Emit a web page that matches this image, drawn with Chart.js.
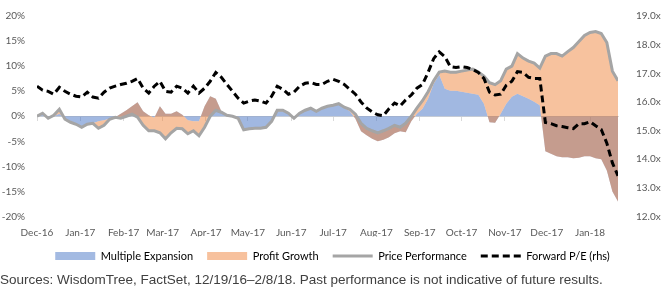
<!DOCTYPE html>
<html>
<head>
<meta charset="utf-8">
<script src="https://cdn.jsdelivr.net/npm/chart.js@4.4.1/dist/chart.umd.min.js"></script>
<style>
  body { margin: 0; background: #fff; }
  #wrap { position: relative; width: 665px; height: 292px; }
  #source {
    position: absolute; left: 0; top: 272px;
    font: 13.5px "Liberation Sans", Arial, sans-serif; color: #404040;
    line-height: 15px; white-space: nowrap;
  }
</style>
</head>
<body>
<div id="wrap">
  <canvas id="chart" width="665" height="292"></canvas>
  <div id="source">Sources: WisdomTree, FactSet, 12/19/16–2/8/18. Past performance is not indicative of future results.</div>
</div>
<script>
"use strict";

// days since 12/19/16 (one sample every 4 days, to 2/8/18)
const days = [0, 4, 8, 12, 16, 20, 24, 28, 32, 36, 40, 44, 48, 52, 56, 60, 64, 68, 72, 76,
    80, 84, 88, 92, 96, 100, 104, 108, 112, 116, 120, 124, 128, 132, 136, 140, 144, 148, 152, 156,
    160, 164, 168, 172, 176, 180, 184, 188, 192, 196, 200, 204, 208, 212, 216, 220, 224, 228, 232, 236,
    240, 244, 248, 252, 256, 260, 264, 268, 272, 276, 280, 284, 288, 292, 296, 300, 304, 308, 312, 316,
    320, 324, 328, 332, 336, 340, 344, 348, 352, 356, 360, 364, 368, 372, 376, 380, 384, 388, 392, 396,
    400, 404, 408, 412, 416];

// month labels (19th of each month) on the date axis
const monthTicks = [0, 31, 62, 90, 121, 151, 182, 212, 243, 274, 304, 335, 365, 396];
const monthLabels = ['Dec-16', 'Jan-17', 'Feb-17', 'Mar-17', 'Apr-17', 'May-17', 'Jun-17',
    'Jul-17', 'Aug-17', 'Sep-17', 'Oct-17', 'Nov-17', 'Dec-17', 'Jan-18'];

// cumulative price performance, %
const pricePerf = [0, 0.6, -0.4, 0.2, 1.4, -0.6, -1.2, -1.6, -2.2, -1.6,
    -1.4, -2.4, -1.8, -0.6, -0.2, -0.4, 0, 0.4, -0.2, -1.8,
    -2.9, -2.9, -3.3, -4.5, -3.3, -2.4, -2.5, -3.5, -2.9, -3.9,
    -2.2, 0, 1.2, 0.8, 0.2, 0, -0.4, -2.7, -2.5, -2.4,
    -2.4, -2.2, -1.0, 1.2, 1.2, 0.6, -0.4, 0.6, 1.2, 1.6,
    1.0, 1.6, 2.0, 2.2, 2.5, 1.8, 1.4, 0.4, -1.4, -2.4,
    -2.9, -3.3, -2.9, -2.4, -1.8, -2.2, -1.4, 0, 1.6, 3.1,
    4.9, 7.1, 8.8, 9.0, 8.8, 8.8, 9.0, 9.2, 9.4, 8.8,
    8.0, 6.7, 6.3, 7.1, 9.4, 10.0, 12.5, 11.6, 11.0, 10.6,
    9.6, 12.0, 12.5, 12.5, 12.0, 12.9, 13.7, 14.9, 16.1, 16.7,
    16.9, 16.5, 14.7, 9.0, 7.1];

// multiple expansion (change in forward P/E), %
const multipleExp = [0, 0.3, -0.2, 0, 0.5, -0.5, -1.0, -1.5, -2.0, -1.6,
    -1.4, -1.0, -0.8, -0.5, -0.2, 0.5, 1.2, 2.0, 2.8, 1.0,
    0.2, -0.3, 2.0, 0.5, 0.5, 1.0, 0.3, -0.8, -1.0, -1.0,
    2.0, 4.0, 3.5, 1.0, 0.3, 0, -0.5, -2.7, -2.5, -2.4,
    -2.4, -2.2, -1.0, 1.0, 1.0, 0.5, -0.4, 0.5, 1.1, 1.5,
    1.0, 1.5, 1.9, 2.1, 2.3, 1.7, 1.0, -0.5, -3.0, -3.8,
    -4.5, -5.0, -4.7, -4.2, -3.4, -3.0, -3.2, -1.0, 0.5, 1.5,
    3.5, 6.5, 8.3, 5.5, 5.1, 5.1, 4.9, 4.7, 4.5, 4.3,
    2.5, -1.2, -1.3, 0.5, 2.5, 3.9, 4.5, 4.0, 3.5, 2.9,
    2.2, -7.0, -7.5, -8.0, -8.2, -8.2, -8.4, -8.3, -8.0, -8.0,
    -8.4, -8.6, -10.8, -15.0, -17.0];

// forward P/E (right axis)
const forwardPE = [16.55, 16.41, 16.37, 16.27, 16.51, 16.37, 16.27, 16.20, 16.17, 16.34,
    16.17, 16.13, 16.34, 16.48, 16.55, 16.61, 16.65, 16.72, 16.82, 16.48,
    16.31, 16.55, 16.72, 16.37, 16.34, 16.55, 16.48, 16.31, 16.55, 16.31,
    16.48, 16.72, 17.03, 16.86, 16.61, 16.37, 16.13, 15.96, 16.03, 16.07,
    16.03, 15.96, 16.20, 16.55, 16.44, 16.27, 16.34, 16.55, 16.65, 16.68,
    16.61, 16.61, 16.72, 16.79, 16.72, 16.61, 16.44, 16.27, 16.00, 15.79,
    15.65, 15.55, 15.52, 15.76, 15.96, 15.86, 16.07, 16.24, 16.48, 16.61,
    17.03, 17.51, 17.75, 17.58, 17.23, 17.20, 17.23, 17.20, 17.13, 17.03,
    16.82, 16.34, 16.24, 16.27, 16.58, 16.72, 17.06, 17.03, 16.86, 16.82,
    16.82, 15.28, 15.24, 15.17, 15.14, 15.10, 15.07, 15.24, 15.24, 15.31,
    15.17, 15.04, 14.56, 13.87, 13.42];

// profit growth is what is left of the price move after the multiple change
const profitGrowth = pricePerf.map((p, i) => p - multipleExp[i]);

const pts = (vals) => vals.map((v, i) => ({x: days[i], y: v}));

const legendStyles = [
    {pointStyle: 'rect', fillStyle: '#A3BAE2', strokeStyle: '#A3BAE2', lineWidth: 0, lineDash: []},
    {pointStyle: 'rect', fillStyle: '#F7C19D', strokeStyle: '#F7C19D', lineWidth: 0, lineDash: []},
    {pointStyle: 'line', fillStyle: '#A5A5A5', strokeStyle: '#A5A5A5', lineWidth: 3, lineDash: []},
    {pointStyle: 'line', fillStyle: '#000000', strokeStyle: '#000000', lineWidth: 3, lineDash: [7, 4]}
];

Chart.defaults.font.family = 'Lato, sans-serif';
Chart.defaults.font.size = 10;
Chart.defaults.color = '#595959';

const monthTickBuilder = (scale) => {
    scale.ticks = monthTicks.map((v) => ({value: v}));
};

const ctx = document.getElementById('chart').getContext('2d');
const myChart = new Chart(ctx, {
    type: 'line',
    data: {
        datasets: [{
            label: 'Multiple Expansion',
            data: pts(multipleExp),
            backgroundColor: 'rgba(68, 114, 196, 0.5)',
            borderWidth: 0,
            fill: 'origin',
            order: 4
        }, {
            label: 'Profit Growth',
            data: pts(profitGrowth.map((v, i) => v + multipleExp[i])),
            backgroundColor: 'rgba(237, 125, 49, 0.47)',
            borderWidth: 0,
            fill: '-1',
            order: 3
        }, {
            label: 'Price Performance',
            data: pts(pricePerf),
            borderColor: '#A5A5A5',
            borderWidth: 3,
            fill: false,
            order: 2
        }, {
            label: 'Forward P/E (rhs)',
            data: pts(forwardPE),
            yAxisID: 'y1',
            borderColor: '#000000',
            borderWidth: 3,
            borderDash: [7, 4],
            fill: false,
            order: 1
        }]
    },
    options: {
        responsive: false,
        animation: false,
        devicePixelRatio: 1,
        layout: {padding: {top: 8.5, bottom: 20.5, left: 0, right: 0}},
        elements: {point: {radius: 0}, line: {tension: 0}},
        plugins: {
            tooltip: {enabled: false},
            legend: {
                position: 'bottom',
                labels: {
                    usePointStyle: true,
                    pointStyleWidth: 40,
                    boxHeight: 8,
                    padding: 14,
                    color: '#404040',
                    font: {size: 11},
                    generateLabels: (chart) => chart.data.datasets.map((ds, i) => Object.assign({
                        text: ds.label,
                        datasetIndex: i,
                        hidden: false
                    }, legendStyles[i]))
                }
            }
        },
        scales: {
            x: {
                type: 'linear',
                min: 0,
                max: 416,
                afterBuildTicks: monthTickBuilder,
                afterFit: (s) => { s.height = 20; },
                ticks: {
                    autoSkip: false,
                    maxRotation: 0,
                    padding: 2,
                    callback: (v) => monthLabels[monthTicks.indexOf(v)]
                },
                grid: {display: false},
                border: {display: false}
            },
            x2: {
                type: 'linear',
                axis: 'x',
                position: {y: 0},
                min: 0,
                max: 416,
                z: 1,
                afterBuildTicks: monthTickBuilder,
                ticks: {display: false},
                grid: {drawOnChartArea: false, tickLength: 4, color: '#D9D9D9'},
                border: {color: '#D9D9D9', width: 1}
            },
            y: {
                min: -20,
                max: 20,
                afterFit: (s) => { s.width = 37; },
                ticks: {stepSize: 5, padding: 4, callback: (v) => v + '%'},
                grid: {display: false},
                border: {display: false}
            },
            y1: {
                position: 'right',
                min: 12,
                max: 19,
                afterFit: (s) => { s.width = 47; },
                ticks: {stepSize: 1, padding: 10, callback: (v) => v.toFixed(1) + 'x'},
                grid: {display: false},
                border: {display: false}
            }
        }
    }
});
</script>
</body>
</html>
